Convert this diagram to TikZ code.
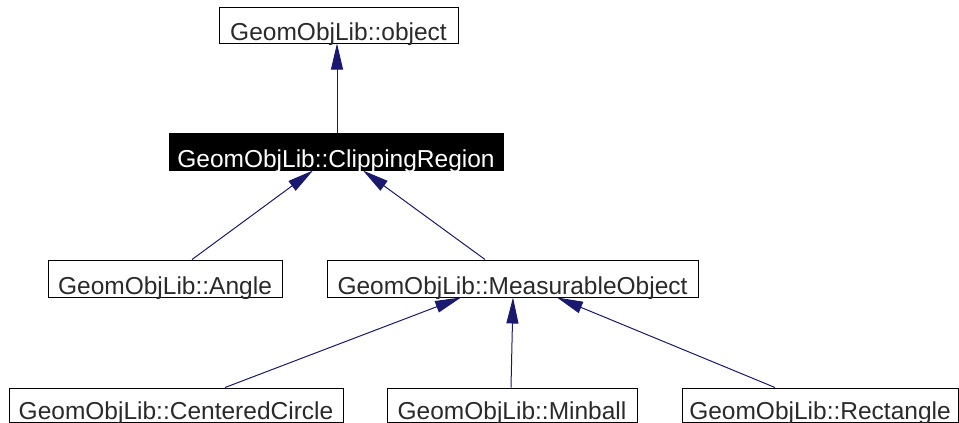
\documentclass[tikz,border=0pt]{standalone}
\usepackage{fontspec}
\setmainfont{Liberation Sans}
\usetikzlibrary{arrows.meta}
\definecolor{edgeblue}{HTML}{191970}
\definecolor{txtgrey}{HTML}{2A2A2A}
\tikzset{
  cls/.style={draw=black, line width=1pt, fill=white, text=txtgrey, inner sep=0pt,
    text height=#1, text depth=3pt, align=center,
    font=\fontsize{24.5}{26}\selectfont},
  cls/.default=30pt,
  edge/.style={draw=edgeblue, line width=1pt, -{Triangle[length=26pt,width=12pt]}},
}
\begin{document}
\begin{tikzpicture}[x=1pt,y=-1pt]
\useasboundingbox (0,0) rectangle (959,423);
\node[cls=33pt, minimum width=239pt] (obj) at (338.5,25) {GeomObjLib::object};
\node[cls=34pt, minimum width=334pt, fill=black, text=white] (clip) at (336,151.5) {GeomObjLib::ClippingRegion};
\node[cls=34pt, minimum width=234pt] (angle) at (165,278.5) {GeomObjLib::Angle};
\node[cls=34pt, minimum width=371pt] (mo) at (512.5,278.5) {GeomObjLib::MeasurableObject};
\node[cls=31pt, minimum width=334pt] (cc) at (176,405) {GeomObjLib::CenteredCircle};
\node[cls=31pt, minimum width=250pt] (mb) at (512,405) {GeomObjLib::Minball};
\node[cls=31pt, minimum width=276pt] (rect) at (820,405) {GeomObjLib::Rectangle};

\draw[edge] ([xshift=1pt]clip.north) -- ([xshift=-1.5pt]obj.south);
\draw[edge] ([xshift=27pt]angle.north) -- ([xshift=-23pt]clip.south);
\draw[edge] ([xshift=-27.5pt]mo.north) -- ([xshift=27pt]clip.south);
\draw[edge] ([xshift=49pt]cc.north) -- ([xshift=-51.5pt]mo.south);
\draw[edge] ([xshift=-1pt]mb.north) -- ([xshift=0.5pt]mo.south);
\draw[edge] ([xshift=-45pt]rect.north) -- ([xshift=44.5pt]mo.south);
\end{tikzpicture}
\end{document}
